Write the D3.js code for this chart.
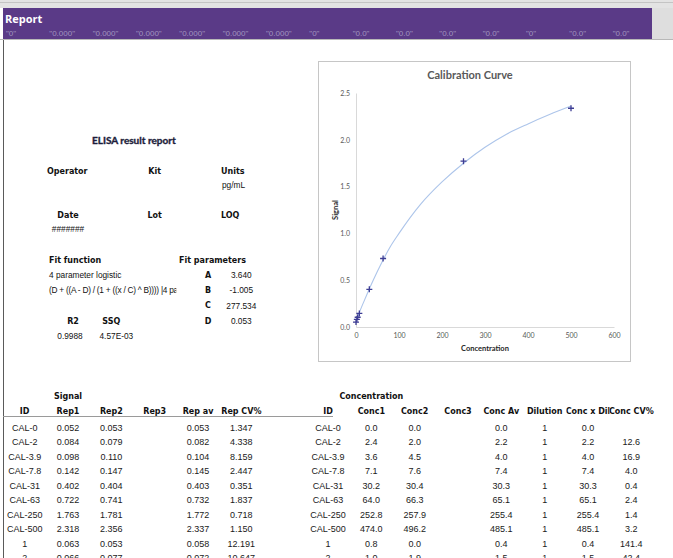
<!DOCTYPE html>
<html>
<head>
<meta charset="utf-8">
<script src="https://cdn.jsdelivr.net/npm/d3@7"></script>
<style>
  html, body { margin: 0; padding: 0; background: #fff; }
  svg { display: block; }
</style>
</head>
<body>
<script>
// format strings shown in the banner row, one per sheet column
var bannerFormats = ["0", "0.000", "0.000", "0.000", "0.000", "0.000", "0.000", "0", "0.0", "0.0", "0.0", "0.0", "0", "0.0", "0.0"];

// calibration points (nominal conc vs mean signal)
var calConc = [0, 2, 3.9, 7.8, 31, 63, 250, 500];
var calSignal = [0.053, 0.082, 0.104, 0.145, 0.403, 0.732, 1.772, 2.337];

// fitted curve
var curveConc = [0, 5, 10, 20, 40, 60, 80, 100, 150, 200, 250, 300, 350, 400, 450, 500];
var curveSignal = [0.053, 0.12, 0.18, 0.29, 0.50, 0.69, 0.86, 1.0, 1.31, 1.55, 1.75, 1.92, 2.06, 2.17, 2.27, 2.36];

var xTicks = [0, 100, 200, 300, 400, 500, 600];
var yTicks = [0, 0.5, 1.0, 1.5, 2.0, 2.5];

// fit parameters
var paramNames = ["A", "B", "C", "D"];
var paramValues = [3.640, -1.005, 277.534, 0.053];

// table
var sampleIds = ["CAL-0", "CAL-2", "CAL-3.9", "CAL-7.8", "CAL-31", "CAL-63", "CAL-250", "CAL-500", "1", "2"];
var rep1 = [0.052, 0.084, 0.098, 0.142, 0.402, 0.722, 1.763, 2.318, 0.063, 0.066];
var rep2 = [0.053, 0.079, 0.110, 0.147, 0.404, 0.741, 1.781, 2.356, 0.053, 0.077];
var repAv = [0.053, 0.082, 0.104, 0.145, 0.403, 0.732, 1.772, 2.337, 0.058, 0.072];
var repCv = [1.347, 4.338, 8.159, 2.447, 0.351, 1.837, 0.718, 1.150, 12.191, 10.647];
var conc1 = [0.0, 2.4, 3.6, 7.1, 30.2, 64.0, 252.8, 474.0, 0.8, 1.0];
var conc2 = [0.0, 2.0, 4.5, 7.6, 30.4, 66.3, 257.9, 496.2, 0.0, 1.9];
var concAv = [0.0, 2.2, 4.0, 7.4, 30.3, 65.1, 255.4, 485.1, 0.4, 1.5];
var dilution = [1, 1, 1, 1, 1, 1, 1, 1, 1, 1];
var concXDil = [0.0, 2.2, 4.0, 7.4, 30.3, 65.1, 255.4, 485.1, 0.4, 1.5];
var concCv = [null, 12.6, 16.9, 4.0, 0.4, 2.4, 1.4, 3.2, 141.4, 42.4];

var W = 673, H = 558;
var svg = d3.select("body").append("svg").attr("width", W).attr("height", H);

// sheet columns
var col = d3.scaleLinear().domain([0, 15]).range([3, 653]);
function colMid(i) { return col(i + 0.5); }

var BOLD = "'DejaVu Sans', Verdana, sans-serif";
var SANS = "'Liberation Sans', Arial, sans-serif";

// ---- banner ----
svg.append("rect").attr("x", 0).attr("y", 0).attr("width", W).attr("height", 8).attr("fill", "#e3e3e3");
svg.append("line").attr("x1", 0).attr("x2", W).attr("y1", 2.5).attr("y2", 2.5).attr("stroke", "#c4c4c4");
svg.append("rect").attr("x", 652).attr("y", 8).attr("width", 21).attr("height", 31).attr("fill", "#dedede");
svg.append("rect").attr("x", 3).attr("y", 8).attr("width", 649).attr("height", 31).attr("fill", "#5a3a87");
svg.append("line").attr("x1", 0).attr("x2", W).attr("y1", 39.5).attr("y2", 39.5).attr("stroke", "#b8b8b8");
svg.append("text").attr("x", 5).attr("y", 19).attr("dy", "0.35em")
  .attr("font-family", "'Open Sans', sans-serif").attr("font-weight", 700).attr("font-size", 11)
  .attr("fill", "#fff").text("Report");
svg.append("g").selectAll("text").data(bannerFormats).enter().append("text")
  .attr("x", function (d, i) { return col(i) + 3; })
  .attr("y", 33).attr("dy", "0.35em")
  .attr("font-family", SANS).attr("font-size", 8).attr("fill", "#a094bf")
  .text(function (d) { return '"' + d + '"'; });

// left window edge
svg.append("line").attr("x1", 3.5).attr("x2", 3.5).attr("y1", 40).attr("y2", H).attr("stroke", "#5a5a5a");

// ---- report header block ----
var info = svg.append("g");
function label(x, y, t, opts) {
  opts = opts || {};
  return info.append("text").attr("x", x).attr("y", y).attr("dy", "0.35em")
    .attr("text-anchor", opts.anchor || "start")
    .attr("font-family", opts.bold ? BOLD : SANS)
    .attr("font-weight", opts.bold ? 700 : 400)
    .attr("font-size", opts.size || (opts.bold ? 8 : 8.3))
    .attr("fill", opts.fill || "#111")
    .text(t);
}
info.append("text").attr("x", 92).attr("y", 140).attr("dy", "0.35em")
  .attr("font-family", "Lato, sans-serif").attr("font-weight", 700).attr("font-size", 10)
  .attr("fill", "#1c1c3a").attr("stroke", "#1c1c3a").attr("stroke-width", 0.35)
  .text("ELISA result report");
label(47, 171, "Operator", { bold: true });
label(colMid(3), 171, "Kit", { bold: true, anchor: "middle" });
label(221, 171, "Units", { bold: true });
label(222, 185, "pg/mL");
label(colMid(1), 215, "Date", { bold: true, anchor: "middle" });
label(colMid(3), 215, "Lot", { bold: true, anchor: "middle" });
label(221, 215, "LOQ", { bold: true });
label(colMid(1), 229, "#######", { anchor: "middle" });
label(49, 260, "Fit function", { bold: true });
label(179, 260, "Fit parameters", { bold: true });
label(49, 275, "4 parameter logistic");

// formula cell, cut by the next cell as in the sheet
svg.append("clipPath").attr("id", "fclip").append("rect")
  .attr("x", 40).attr("y", 280).attr("width", col(4) - 40).attr("height", 20);
label(49, 290, "(D + ((A - D) / (1 + ((x / C) ^ B)))) |4 para")
  .attr("letter-spacing", -0.25)
  .attr("clip-path", "url(#fclip)");

var paramY = d3.scaleLinear().domain([0, 1]).range([275, 290.3]);
paramNames.forEach(function (p, i) {
  label(208, paramY(i), p, { bold: true, anchor: "middle" });
  label(colMid(5), paramY(i), d3.format(".3f")(paramValues[i]).replace("−", "-"), { anchor: "middle" });
});
label(colMid(1) + 5, 321, "R2", { bold: true, anchor: "middle" });
label(colMid(2), 321, "SSQ", { bold: true, anchor: "middle" });
label(colMid(1) + 2, 336, "0.9988", { anchor: "middle" });
label(colMid(2) + 5, 336, "4.57E-03", { anchor: "middle" });

// ---- calibration chart ----
var chart = svg.append("g");
chart.append("rect").attr("x", 318.5).attr("y", 61.5).attr("width", 312).attr("height", 300)
  .attr("fill", "#fff").attr("stroke", "#c6c6c6");
chart.append("text").attr("x", 470).attr("y", 75).attr("dy", "0.35em").attr("text-anchor", "middle")
  .attr("font-family", "Lato, sans-serif").attr("font-weight", 700).attr("font-size", 11)
  .attr("fill", "#595959").text("Calibration Curve");

var x = d3.scaleLinear().domain([0, 600]).range([356, 614]);
var y = d3.scaleLinear().domain([0, 2.5]).range([327, 93]);

var xAxis = chart.append("g").attr("transform", "translate(0," + y(0) + ")")
  .call(d3.axisBottom(x).tickValues(xTicks).tickSize(0).tickPadding(6).tickFormat(d3.format("d")));
var yAxis = chart.append("g").attr("transform", "translate(" + x(0) + ",0)")
  .call(d3.axisLeft(y).tickValues(yTicks).tickSize(0).tickPadding(6).tickFormat(d3.format(".1f")));
[xAxis, yAxis].forEach(function (a) {
  a.select(".domain").attr("stroke", "#d9d9d9");
  a.selectAll("text").attr("font-family", "Lato, sans-serif").attr("font-size", 7).attr("fill", "#595959");
});

chart.append("text").attr("x", 485).attr("y", 348).attr("dy", "0.35em").attr("text-anchor", "middle")
  .attr("font-family", "Lato, sans-serif").attr("font-weight", 700).attr("font-size", 7.5)
  .attr("fill", "#262626").text("Concentration");
chart.append("text").attr("transform", "translate(335,210) rotate(-90)").attr("dy", "0.35em")
  .attr("text-anchor", "middle")
  .attr("font-family", "Lato, sans-serif").attr("font-weight", 700).attr("font-size", 7.5)
  .attr("fill", "#262626").text("Signal");

var line = d3.line()
  .x(function (d, i) { return x(curveConc[i]); })
  .y(function (d) { return y(d); })
  .curve(d3.curveMonotoneX);
chart.append("path").datum(curveSignal).attr("d", line)
  .attr("fill", "none").attr("stroke", "#adc5ea").attr("stroke-width", 1.1);

chart.append("g").selectAll("path").data(calSignal).enter().append("path")
  .attr("transform", function (d, i) { return "translate(" + x(calConc[i]) + "," + y(d) + ")"; })
  .attr("d", "M-3,0H3M0,-3V3")
  .attr("stroke", "#3d3d94").attr("stroke-width", 1.3);

// ---- results table ----
var table = svg.append("g");
var rowY = d3.scaleLinear().domain([0, 1]).range([427.7, 442.2]);

function head(i, y0, t, clipId) {
  var tx = table.append("text").attr("x", colMid(i)).attr("y", y0).attr("dy", "0.35em")
    .attr("text-anchor", "middle").attr("font-family", BOLD).attr("font-weight", 700)
    .attr("font-size", 8).attr("fill", "#111").text(t);
  if (clipId) tx.attr("clip-path", "url(#" + clipId + ")");
}
head(1, 396, "Signal");
head(8, 396, "Concentration");
var leftHeads = ["ID", "Rep1", "Rep2", "Rep3", "Rep av", "Rep CV%"];
leftHeads.forEach(function (t, i) { head(i, 411, t); });
var rightHeads = ["ID", "Conc1", "Conc2", "Conc3", "Conc Av", "Dilution", "Conc x Dil", "Conc CV%"];
svg.append("clipPath").attr("id", "c13").append("rect")
  .attr("x", col(13)).attr("y", 400).attr("width", col(14) - col(13)).attr("height", 20);
svg.append("clipPath").attr("id", "c14").append("rect")
  .attr("x", col(14)).attr("y", 400).attr("width", W - col(14)).attr("height", 20);
rightHeads.forEach(function (t, i) {
  head(i + 7, 411, t, i === 6 ? "c13" : (i === 7 ? "c14" : null));
});
table.append("line").attr("x1", 3).attr("x2", 333).attr("y1", 416.5).attr("y2", 416.5)
  .attr("stroke", "#9a9a9a");

var f3 = d3.format(".3f"), f1 = d3.format(".1f");
var columns = [
  { c: 0, v: sampleIds, f: String },
  { c: 1, v: rep1, f: f3 },
  { c: 2, v: rep2, f: f3 },
  { c: 4, v: repAv, f: f3 },
  { c: 5, v: repCv, f: f3 },
  { c: 7, v: sampleIds, f: String },
  { c: 8, v: conc1, f: f1 },
  { c: 9, v: conc2, f: f1 },
  { c: 11, v: concAv, f: f1 },
  { c: 12, v: dilution, f: String },
  { c: 13, v: concXDil, f: f1 },
  { c: 14, v: concCv, f: f1 }
];
columns.forEach(function (cd) {
  table.append("g").selectAll("text").data(cd.v).enter().append("text")
    .attr("x", colMid(cd.c))
    .attr("y", function (d, i) { return rowY(i); })
    .attr("dy", "0.35em").attr("text-anchor", "middle")
    .attr("font-family", SANS).attr("font-size", 9).attr("fill", "#1a1a1a")
    .text(function (d) { return d === null ? "" : cd.f(d); });
});
</script>
</body>
</html>
